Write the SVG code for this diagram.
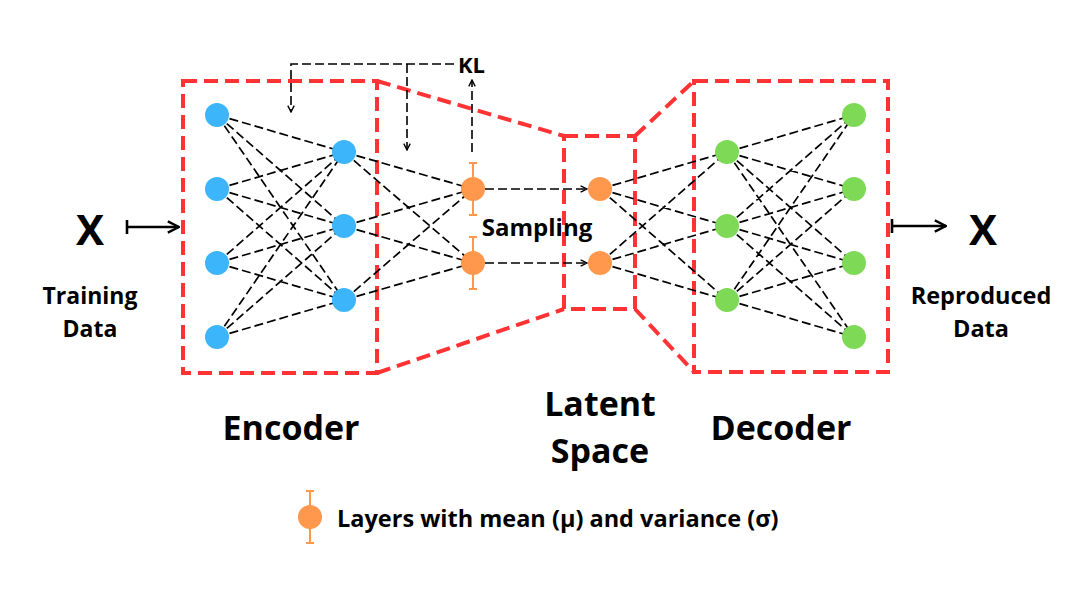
<svg xmlns="http://www.w3.org/2000/svg" width="1092" height="595" viewBox="0 0 1092 595">
<defs>
<style>
.box{fill:none;stroke:#FF3333;stroke-width:4;stroke-dasharray:14 7}
.e{stroke:#000;stroke-width:1.7;stroke-dasharray:9 4;fill:none}
.kl{stroke:#000;stroke-width:1.6;stroke-dasharray:9 4;fill:none}
.blue{fill:#3CB5FA}
.green{fill:#7ED957}
.orange{fill:#FF974D}
.eb{stroke:#FF974D;stroke-width:2;fill:none}
.t{font-family:"Open Sans","Noto Sans","Liberation Sans",sans-serif;font-weight:700;fill:#000;text-anchor:middle}
.s{text-anchor:start}
.solid{stroke:#000;stroke-width:2.6;fill:none}
</style>
<marker id="ah" viewBox="0 0 10 10" refX="9" refY="5" markerWidth="8" markerHeight="8" markerUnits="userSpaceOnUse" orient="auto"><path d="M1,1 L9,5 L1,9" fill="none" stroke="#000" stroke-width="1.7"/></marker>
<marker id="ahb" viewBox="0 0 10 10" refX="9" refY="5" markerWidth="14" markerHeight="14" markerUnits="userSpaceOnUse" orient="auto"><path d="M1,1 L9,5 L1,9" fill="none" stroke="#000" stroke-width="1.7"/></marker>
</defs>
<rect width="1092" height="595" fill="#fff"/>
<g id="boxes">
<rect class="box" x="183" y="81" width="194" height="292"/>
<rect class="box" x="564" y="136" width="71" height="173"/>
<rect class="box" x="694" y="81" width="194" height="291"/>
<path class="box" d="M377,81 L564,136 M377,373 L564,309 M635,136 L694,81 M635,309 L694,372"/>
</g>
<g id="connectors">
<path class="e" d="M217,115L344,152M217,115L344,226M217,115L344,300M217,189L344,152M217,189L344,226M217,189L344,300M217,263L344,152M217,263L344,226M217,263L344,300M217,337L344,152M217,337L344,226M217,337L344,300"/>
<path class="e" d="M344,152L473,189M344,152L473,263M344,226L473,189M344,226L473,263M344,300L473,189M344,300L473,263"/>
<path class="e" d="M600,189L727,152M600,189L727,226M600,189L727,300M600,263L727,152M600,263L727,226M600,263L727,300"/>
<path class="e" d="M727,152L854,115M727,152L854,189M727,152L854,263M727,152L854,337M727,226L854,115M727,226L854,189M727,226L854,263M727,226L854,337M727,300L854,115M727,300L854,189M727,300L854,263M727,300L854,337"/>
<path class="e" d="M485,189L587,189" marker-end="url(#ah)"/>
<path class="e" d="M485,263L587,263" marker-end="url(#ah)"/>
<path class="kl" d="M454,64L291,64L291,112" marker-end="url(#ah)"/>
<path class="kl" d="M407,64L407,150" marker-end="url(#ah)"/>
<path class="kl" d="M472,152L472,80" marker-end="url(#ah)"/>
<path class="solid" d="M127,220L127,234M127,227L179,227" marker-end="url(#ahb)"/>
<path class="solid" d="M892,219L892,233M892,226L946,226" marker-end="url(#ahb)"/>
</g>
<g id="encoder-nodes">
<circle class="blue" cx="217" cy="115" r="12"/>
<circle class="blue" cx="217" cy="189" r="12"/>
<circle class="blue" cx="217" cy="263" r="12"/>
<circle class="blue" cx="217" cy="337" r="12"/>
<circle class="blue" cx="344" cy="152" r="12"/>
<circle class="blue" cx="344" cy="226" r="12"/>
<circle class="blue" cx="344" cy="300" r="12"/>
</g>
<g id="mean-variance-nodes">
<path class="eb" d="M473,163V215M469,163H477M469,215H477"/>
<circle class="orange" cx="473" cy="189" r="12"/>
<path class="eb" d="M473,237V289M469,237H477M469,289H477"/>
<circle class="orange" cx="473" cy="263" r="12"/>
</g>
<g id="latent-nodes">
<circle class="orange" cx="600" cy="189" r="12"/>
<circle class="orange" cx="600" cy="263" r="12"/>
</g>
<g id="decoder-nodes">
<circle class="green" cx="727" cy="152" r="12"/>
<circle class="green" cx="727" cy="226" r="12"/>
<circle class="green" cx="727" cy="300" r="12"/>
<circle class="green" cx="854" cy="115" r="12"/>
<circle class="green" cx="854" cy="189" r="12"/>
<circle class="green" cx="854" cy="263" r="12"/>
<circle class="green" cx="854" cy="337" r="12"/>
</g>
<g id="labels">
<text class="t s" x="458" y="73" font-size="22">KL</text>
<text class="t" x="90" y="245" font-size="42">X</text>
<text class="t" x="983" y="245" font-size="42">X</text>
<text class="t" x="90" y="304" font-size="23">Training</text>
<text class="t" x="90" y="337" font-size="23">Data</text>
<text class="t" x="981" y="304" font-size="23.5">Reproduced</text>
<text class="t" x="981" y="337" font-size="23.5">Data</text>
<text class="t" x="537" y="236" font-size="24">Sampling</text>
<text class="t" x="291" y="440" font-size="34">Encoder</text>
<text class="t" x="600" y="416" font-size="34">Latent</text>
<text class="t" x="600" y="463" font-size="34">Space</text>
<text class="t" x="781" y="440" font-size="34">Decoder</text>
</g>
<g id="legend">
<path class="eb" d="M310,491V543M306,491H314M306,543H314"/>
<circle class="orange" cx="310" cy="517" r="12"/>
<text class="t s" x="337" y="527" font-size="23.5">Layers with mean (μ) and variance (σ)</text>
</g>
</svg>
